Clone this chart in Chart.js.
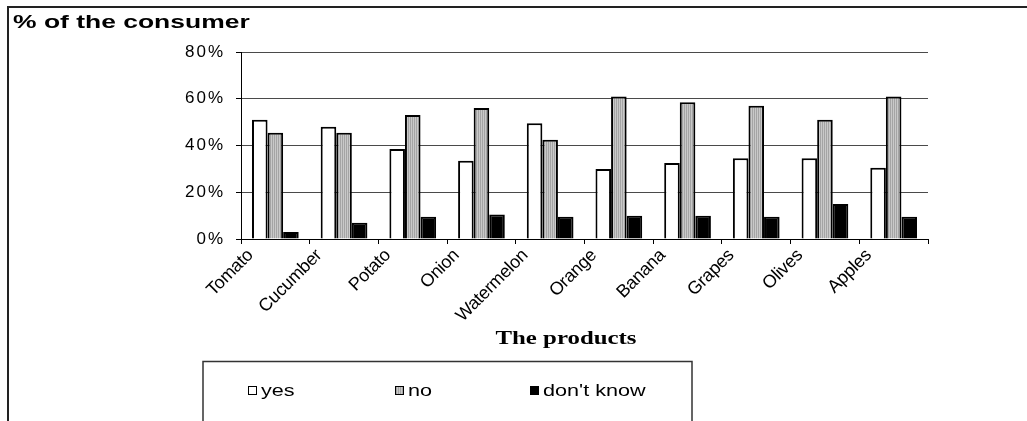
<!DOCTYPE html>
<html>
<head>
<meta charset="utf-8">
<script src="https://cdn.jsdelivr.net/npm/chart.js@4.4.1/dist/chart.umd.min.js"></script>
<style>
  html, body { margin: 0; padding: 0; background: #ffffff; }
  #wrap { width: 1027px; height: 421px; }
</style>
</head>
<body>
<div id="wrap"><canvas id="c" width="1027" height="421"></canvas></div>
<script>
// Survey answers per product (% of consumers)
const categories = ['Tomato', 'Cucumber', 'Potato', 'Onion', 'Watermelon', 'Orange', 'Banana', 'Grapes', 'Olives', 'Apples'];
const seriesNames = ['yes', 'no', "don't know"];
const yesValues = [51, 48, 38.5, 33.5, 49.5, 30, 32.5, 34.5, 34.5, 30.5];
const noValues = [45.5, 45.5, 53, 56, 42.5, 61, 58.5, 57, 51, 61];
const dontKnowValues = [3, 7, 9.5, 10.5, 9.5, 10, 10, 9.5, 15, 9.5];
const yTickValues = [0, 20, 40, 60, 80];
const yAxisTitle = '% of the consumer';
const xAxisTitle = 'The products';

// fine vertical stripes for the "no" series
function stripePattern() {
  const tile = document.createElement('canvas');
  tile.width = 2; tile.height = 4;
  const g = tile.getContext('2d');
  g.fillStyle = '#c9c9c9'; g.fillRect(0, 0, 2, 4);
  g.fillStyle = '#a4a4a4'; g.fillRect(0, 0, 1, 4);
  return g.createPattern(tile, 'repeat');
}

// axes whose tick labels get a custom letter spacing
class SpacedLinearScale extends Chart.LinearScale {
  drawLabels(area) {
    const ctx = this.ctx;
    ctx.save();
    ctx.letterSpacing = '2px';
    super.drawLabels(area);
    ctx.restore();
  }
}
SpacedLinearScale.id = 'spacedLinear';
SpacedLinearScale.defaults = Chart.LinearScale.defaults;

class TightCategoryScale extends Chart.CategoryScale {
  drawLabels(area) {
    const ctx = this.ctx;
    ctx.save();
    ctx.letterSpacing = '-0.3px';
    super.drawLabels(area);
    ctx.restore();
  }
}
TightCategoryScale.id = 'tightCategory';
TightCategoryScale.defaults = Chart.CategoryScale.defaults;
Chart.register(SpacedLinearScale, TightCategoryScale);

function wideText(ctx, text, x, y, font, sx, align) {
  ctx.save();
  ctx.font = font;
  ctx.fillStyle = '#000';
  ctx.textBaseline = 'alphabetic';
  ctx.textAlign = 'left';
  const w = ctx.measureText(text).width * sx;
  const x0 = align === 'center' ? x - w / 2 : x;
  ctx.translate(x0, y);
  ctx.scale(sx, 1);
  ctx.fillText(text, 0, 0);
  ctx.restore();
}

// outer frame, axis titles and boxed legend
const decorations = {
  id: 'decorations',
  afterDraw(chart) {
    const ctx = chart.ctx;
    ctx.save();
    ctx.strokeStyle = '#222';
    ctx.lineWidth = 2;
    ctx.beginPath();
    ctx.moveTo(8, 421); ctx.lineTo(8, 7); ctx.lineTo(1027, 7);
    ctx.stroke();

    wideText(ctx, yAxisTitle, 13, 28, 'bold 18px Arial, "Liberation Sans", sans-serif', 1.47, 'left');
    wideText(ctx, xAxisTitle, 566, 344, 'bold 18px "Times New Roman", "Liberation Serif", serif', 1.38, 'center');

    ctx.strokeStyle = '#333';
    ctx.lineWidth = 1.5;
    ctx.strokeRect(203, 361.5, 489, 80);

    const itemX = [248, 395, 530];
    const rowY = 391;
    chart.data.datasets.forEach((ds, i) => {
      const x = itemX[i];
      ctx.fillStyle = ds.backgroundColor;
      ctx.fillRect(x, rowY - 5, 9, 9);
      ctx.strokeStyle = '#000';
      ctx.lineWidth = 1;
      ctx.strokeRect(x + 0.5, rowY - 4.5, 8, 8);
      wideText(ctx, ds.label, x + 13, rowY + 5, '16px Arial, "Liberation Sans", sans-serif', 1.35, 'left');
    });
    ctx.restore();
  }
};

const stripes = stripePattern();

new Chart(document.getElementById('c'), {
  type: 'bar',
  data: {
    labels: categories,
    datasets: [
      { label: seriesNames[0], data: yesValues, backgroundColor: '#ffffff' },
      { label: seriesNames[1], data: noValues, backgroundColor: stripes },
      { label: seriesNames[2], data: dontKnowValues, backgroundColor: '#000000' }
    ]
  },
  options: {
    responsive: false,
    animation: false,
    devicePixelRatio: 1,
    layout: { padding: { left: 0, top: 52, right: 99, bottom: 82 } },
    datasets: {
      bar: {
        barPercentage: 1,
        categoryPercentage: 0.68,
        borderColor: '#000',
        borderWidth: 2
      }
    },
    plugins: {
      legend: { display: false },
      title: { display: false },
      tooltip: { enabled: false }
    },
    scales: {
      x: {
        type: 'tightCategory',
        offset: true,
        afterFit(scale) { scale.height = 100; },
        grid: { offset: true, drawOnChartArea: false, tickLength: 5, tickColor: '#000', lineWidth: 1 },
        border: { color: '#000', width: 1 },
        ticks: {
          autoSkip: false,
          minRotation: 45,
          maxRotation: 45,
          labelOffset: -25,
          padding: 1,
          color: '#000',
          font: { family: 'Arial, "Liberation Sans", sans-serif', size: 18 }
        }
      },
      y: {
        type: 'spacedLinear',
        min: 0,
        max: 80,
        afterFit(scale) { scale.width = 241; },
        afterBuildTicks(scale) { scale.ticks = yTickValues.map(v => ({ value: v })); },
        grid: { color: '#4a4a4a', lineWidth: 1, tickLength: 5, tickColor: '#000' },
        border: { color: '#000', width: 1 },
        ticks: {
          padding: 11,
          color: '#000',
          font: { family: 'Arial, "Liberation Sans", sans-serif', size: 17 },
          callback: v => v + '%'
        }
      }
    }
  },
  plugins: [decorations]
});
</script>
</body>
</html>
